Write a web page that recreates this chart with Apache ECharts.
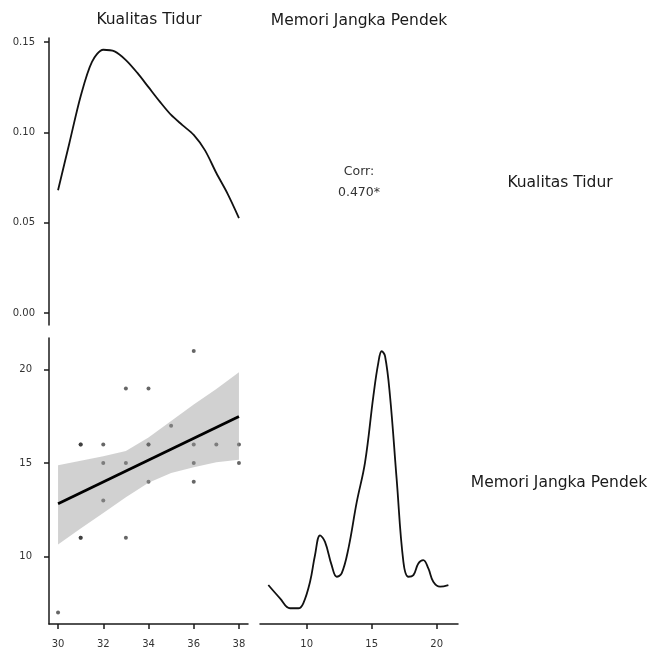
<!DOCTYPE html>
<html style="height: 100%">
<head>
  <meta charset="UTF-8">
  <title>Pairs plot</title>
  <script src="https://cdn.jsdelivr.net/npm/echarts@6/dist/echarts.min.js"></script>
</head>
<body style="height: 649px; width: 652px; margin: 0; background-color: #fff;">
  <div id="main" style="width: 652px; height: 649px;"></div>
  <script type="text/javascript">
    // density of Kualitas Tidur (top-left panel)
    var tidurX = [30, 30.5, 31, 31.5, 32, 32.5, 33, 33.5, 34, 34.5, 35, 35.5, 36, 36.5, 37, 37.5, 38];
    var tidurDens = [0.068, 0.094, 0.120, 0.139, 0.1457, 0.1448, 0.140, 0.133, 0.125, 0.117, 0.1096, 0.104, 0.0986, 0.090, 0.0775, 0.066, 0.0526];

    // density of Memori Jangka Pendek (bottom-right panel)
    var memoriX = [7.05, 7.95, 8.72, 9.36, 9.74, 10.26, 10.64, 11.03, 11.41, 11.92, 12.31, 12.69, 13.21, 13.85, 14.49, 15.13, 15.51, 15.77, 16.03, 16.41, 16.92, 17.44, 17.82, 18.21, 18.59, 18.97, 19.36, 19.74, 20.26, 20.9];
    var memoriDens = [0.047, 0.031, 0.019, 0.019, 0.025, 0.051, 0.083, 0.107, 0.099, 0.071, 0.057, 0.061, 0.091, 0.147, 0.195, 0.275, 0.315, 0.329, 0.323, 0.275, 0.175, 0.075, 0.057, 0.059, 0.073, 0.077, 0.067, 0.051, 0.045, 0.047];

    // scatter (Kualitas Tidur vs Memori Jangka Pendek)
    var ptX = [30, 31, 31, 31, 31, 32, 32, 32, 33, 33, 33, 34, 34, 34, 34, 35, 36, 36, 36, 36, 37, 38, 38];
    var ptY = [7, 16, 16, 11, 11, 16, 15, 13, 19, 15, 11, 19, 16, 16, 14, 17, 21, 16, 15, 14, 16, 16, 15];

    // linear fit and confidence band
    var fitX = [30, 38];
    var fitY = [12.82, 17.5];
    var bandX = [30, 31, 32, 33, 34, 35, 36, 37, 38];
    var bandUpper = [14.89, 15.12, 15.36, 15.65, 16.37, 17.25, 18.14, 18.97, 19.86];
    var bandLower = [10.64, 11.49, 12.32, 13.17, 13.94, 14.47, 14.77, 15.04, 15.18];

    var tidurTicks = [30, 32, 34, 36, 38];
    var memoriTicks = [10, 15, 20];
    var densTicks = [0, 0.05, 0.1, 0.15];
    var corrText = ['Corr:', '0.470*'];

    var font = "'DejaVu Sans', Arial, sans-serif";
    var axisLine = { show: true, lineStyle: { color: '#1a1a1a', width: 1.5 } };
    var axisTick = { show: true, length: 5, lineStyle: { color: '#1a1a1a', width: 1.5 } };
    var lbl = { color: '#333', fontSize: 10, fontFamily: font };

    function zip(a, b) {
      return a.map(function (v, i) { return [v, b[i]]; });
    }

    var myChart = echarts.init(document.getElementById('main'));

    var option = {
      animation: false,
      backgroundColor: '#fff',
      grid: [
        { left: 49, top: 38, width: 199, height: 287 },
        { left: 49, top: 338, width: 199, height: 288 },
        { left: 260, top: 338, width: 198, height: 288 }
      ],
      xAxis: [
        { gridIndex: 0, type: 'value', min: 29.6, max: 38.4, show: false },
        {
          gridIndex: 1, type: 'value', min: 29.6, max: 38.4,
          splitLine: { show: false }, axisLine: axisLine,
          axisTick: Object.assign({ customValues: tidurTicks }, axisTick),
          axisLabel: Object.assign({ customValues: tidurTicks, margin: 15 }, lbl)
        },
        {
          gridIndex: 2, type: 'value', min: 6.41, max: 21.64,
          splitLine: { show: false }, axisLine: axisLine,
          axisTick: Object.assign({ customValues: memoriTicks }, axisTick),
          axisLabel: Object.assign({ customValues: memoriTicks, margin: 15 }, lbl)
        }
      ],
      yAxis: [
        {
          gridIndex: 0, type: 'value', min: -0.0066, max: 0.1522,
          splitLine: { show: false }, axisLine: axisLine,
          axisTick: Object.assign({ customValues: densTicks }, axisTick),
          axisLabel: Object.assign({ customValues: densTicks, margin: 14,
            formatter: function (v) { return v.toFixed(2); } }, lbl)
        },
        {
          gridIndex: 1, type: 'value', min: 6.38, max: 21.7,
          splitLine: { show: false }, axisLine: axisLine,
          axisTick: Object.assign({ customValues: memoriTicks }, axisTick),
          axisLabel: Object.assign({ customValues: memoriTicks, margin: 17 }, lbl)
        },
        { gridIndex: 2, type: 'value', min: 0, max: 0.345, show: false }
      ],
      series: [
        {
          type: 'line', xAxisIndex: 0, yAxisIndex: 0, smooth: 0.3, symbol: 'none',
          lineStyle: { color: '#111', width: 1.8 },
          data: zip(tidurX, tidurDens)
        },
        {
          type: 'line', xAxisIndex: 2, yAxisIndex: 2, smooth: 0.4, symbol: 'none',
          lineStyle: { color: '#111', width: 1.8 },
          data: zip(memoriX, memoriDens)
        },
        {
          type: 'scatter', xAxisIndex: 1, yAxisIndex: 1, symbolSize: 4,
          itemStyle: { color: '#333', opacity: 0.75 },
          data: zip(ptX, ptY), z: 2
        },
        {
          type: 'custom', xAxisIndex: 1, yAxisIndex: 1, z: 3,
          data: [[34, 15]],
          renderItem: function (params, api) {
            var pts = [];
            for (var i = 0; i < bandX.length; i++) pts.push(api.coord([bandX[i], bandUpper[i]]));
            for (var j = bandX.length - 1; j >= 0; j--) pts.push(api.coord([bandX[j], bandLower[j]]));
            return {
              type: 'polygon',
              shape: { points: pts },
              style: { fill: 'rgba(153,153,153,0.45)', stroke: null }
            };
          }
        },
        {
          type: 'line', xAxisIndex: 1, yAxisIndex: 1, symbol: 'none', z: 4,
          lineStyle: { color: '#000', width: 2.8 },
          data: zip(fitX, fitY)
        }
      ],
      graphic: [
        { type: 'text', x: 149, y: 20, style: { text: 'Kualitas Tidur', font: '15.5px ' + font, fill: '#1a1a1a', align: 'center', verticalAlign: 'middle' } },
        { type: 'text', x: 359, y: 21, style: { text: 'Memori Jangka Pendek', font: '15.5px ' + font, fill: '#1a1a1a', align: 'center', verticalAlign: 'middle' } },
        { type: 'text', x: 560, y: 183, style: { text: 'Kualitas Tidur', font: '15.5px ' + font, fill: '#1a1a1a', align: 'center', verticalAlign: 'middle' } },
        { type: 'text', x: 559, y: 483, style: { text: 'Memori Jangka Pendek', font: '15.5px ' + font, fill: '#1a1a1a', align: 'center', verticalAlign: 'middle' } },
        { type: 'text', x: 359, y: 172, style: { text: corrText[0], font: '12.5px ' + font, fill: '#333', align: 'center', verticalAlign: 'middle' } },
        { type: 'text', x: 359, y: 193, style: { text: corrText[1], font: '12.5px ' + font, fill: '#333', align: 'center', verticalAlign: 'middle' } }
      ]
    };

    myChart.setOption(option);
  </script>
</body>
</html>
